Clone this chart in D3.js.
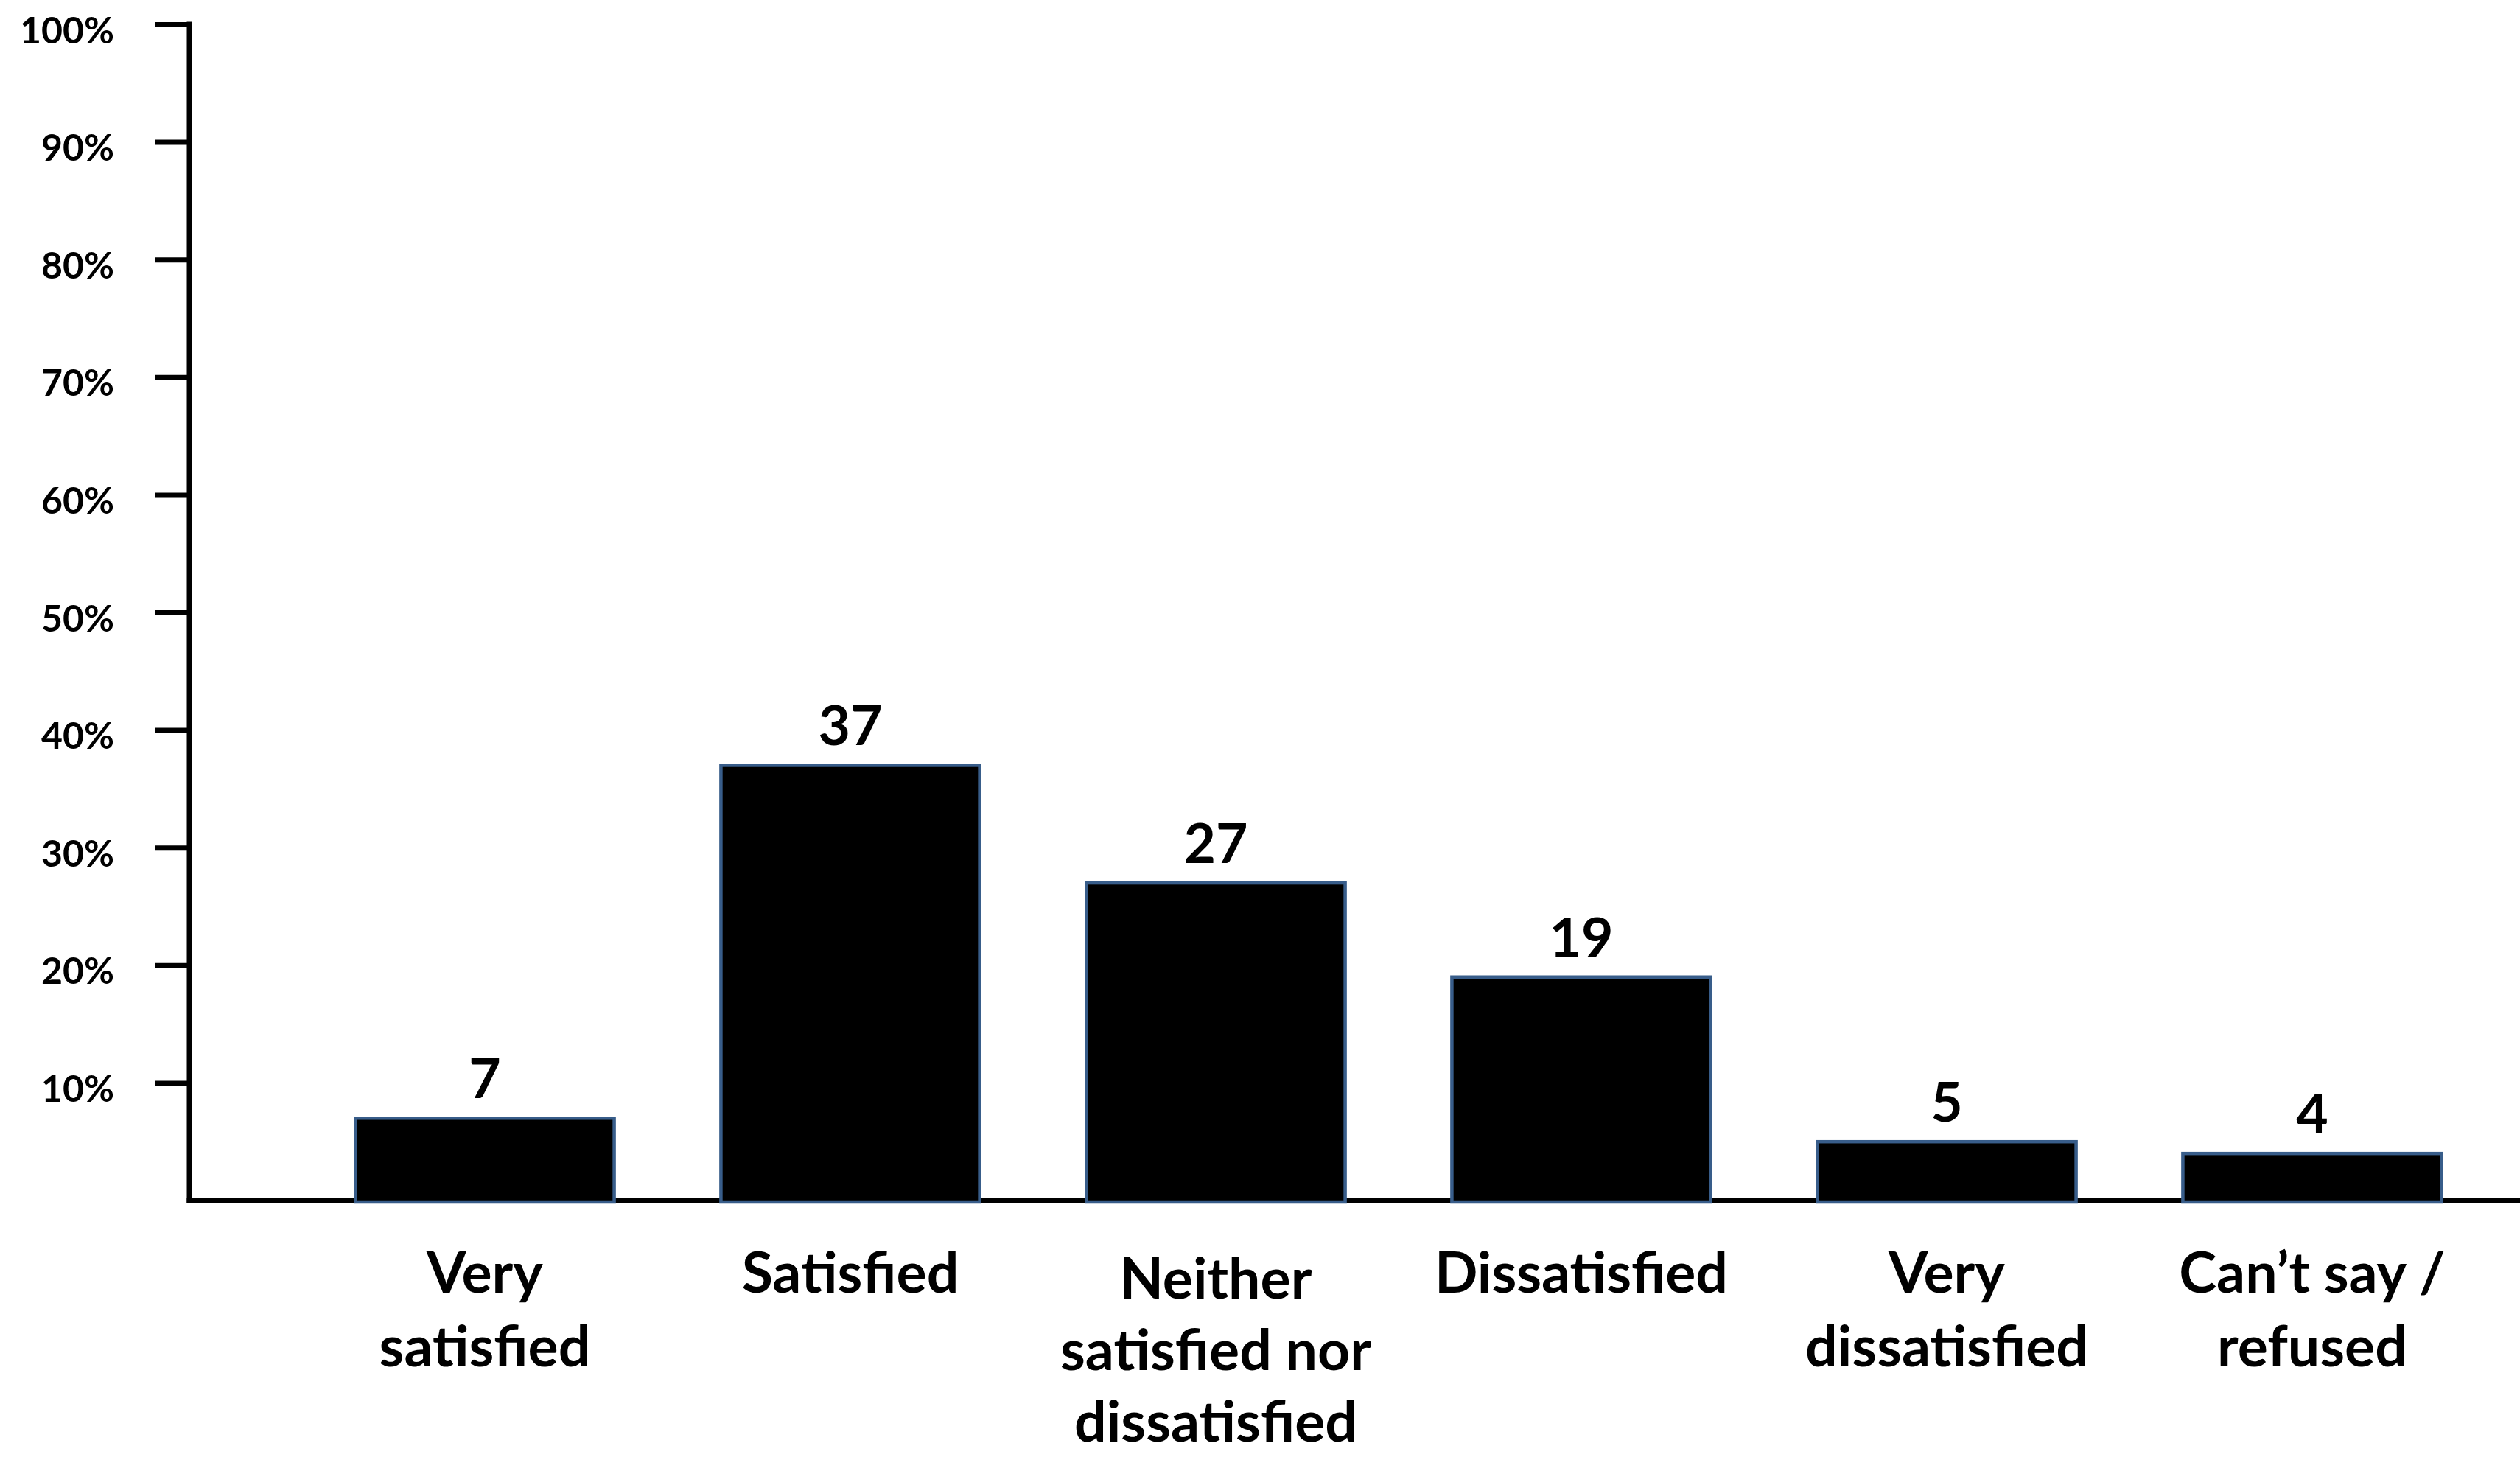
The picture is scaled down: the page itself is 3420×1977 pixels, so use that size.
<!DOCTYPE html>
<html>
<head>
<meta charset="utf-8">
<script src="https://cdn.jsdelivr.net/npm/d3@7"></script>
<style>
html,body{margin:0;padding:0;background:#fff;}
svg{display:block;}
text{font-family:Lato,"Open Sans",sans-serif;font-weight:bold;fill:#000;}
</style>
</head>
<body>
<svg id="chart" width="3420" height="1977"></svg>
<script>
const categories = [
  ["Very", "satisfied"],
  ["Satisfied"],
  ["Neither", "satisfied nor", "dissatisfied"],
  ["Dissatisfied"],
  ["Very", "dissatisfied"],
  ["Can\u2019t say /", "refused"]
];
const values = [7, 37, 27, 19, 5, 4];
const yTicks = [10, 20, 30, 40, 50, 60, 70, 80, 90, 100];
const yTickLabels = ["10%", "20%", "30%", "40%", "50%", "60%", "70%", "80%", "90%", "100%"];

const svg = d3.select("#chart");
const axisX = 257, axisY0 = 1629, axisYTop = 33;

const x = d3.scaleBand()
  .domain(d3.range(values.length))
  .range([410, 3386])
  .paddingInner(0.292)
  .paddingOuter(0.146);
const y = d3.scaleLinear().domain([0, 100]).range([axisY0, axisYTop]);

// Y axis
const yAxis = d3.axisLeft(y)
  .tickValues(yTicks)
  .tickFormat((d, i) => yTickLabels[i])
  .tickSize(46)
  .tickSizeOuter(0)
  .tickPadding(56);
const gy = svg.append("g").attr("transform", `translate(${axisX},0)`).call(yAxis);
gy.select(".domain").remove();
gy.selectAll(".tick line").attr("stroke", "#000").attr("stroke-width", 7);
gy.selectAll(".tick text")
  .attr("font-size", 50)
  .attr("dy", "0.5em")
  .style("font-family", "Lato, 'Open Sans', sans-serif")
  .style("font-weight", "bold")
  .attr("fill", "#000");
svg.append("line")
  .attr("x1", axisX).attr("x2", axisX)
  .attr("y1", y(100) - 3.5).attr("y2", axisY0 + 3)
  .attr("stroke", "#000").attr("stroke-width", 7);

// X axis baseline
svg.append("line")
  .attr("x1", axisX - 3.5).attr("x2", 3420)
  .attr("y1", axisY0).attr("y2", axisY0)
  .attr("stroke", "#000").attr("stroke-width", 7);

// Bars
svg.selectAll("rect.bar").data(values).enter().append("rect")
  .attr("class", "bar")
  .attr("x", (d, i) => x(i))
  .attr("y", d => y(d))
  .attr("width", x.bandwidth())
  .attr("height", d => axisY0 - y(d) + 2)
  .attr("fill", "#000")
  .attr("stroke", "#385D8A")
  .attr("stroke-width", 4.5);

// Value labels
svg.selectAll("text.val").data(values).enter().append("text")
  .attr("class", "val")
  .attr("x", (d, i) => x(i) + x.bandwidth() / 2)
  .attr("y", d => y(d) - 27)
  .attr("text-anchor", "middle")
  .attr("font-size", 75)
  .text(d => d);

// Category labels
const cat = svg.selectAll("text.cat").data(categories).enter().append("text")
  .attr("class", "cat")
  .attr("x", (d, i) => x(i) + x.bandwidth() / 2)
  .attr("y", (d) => d.length === 3 ? 1762 : 1754)
  .attr("text-anchor", "middle")
  .attr("font-size", 77);
cat.each(function(lines, i) {
  const t = d3.select(this);
  lines.forEach((ln, k) => {
    t.append("tspan")
      .attr("x", x(i) + x.bandwidth() / 2)
      .attr("dy", k === 0 ? 0 : (lines.length === 3 ? 97 : 100))
      .text(ln);
  });
});
</script>
</body>
</html>
